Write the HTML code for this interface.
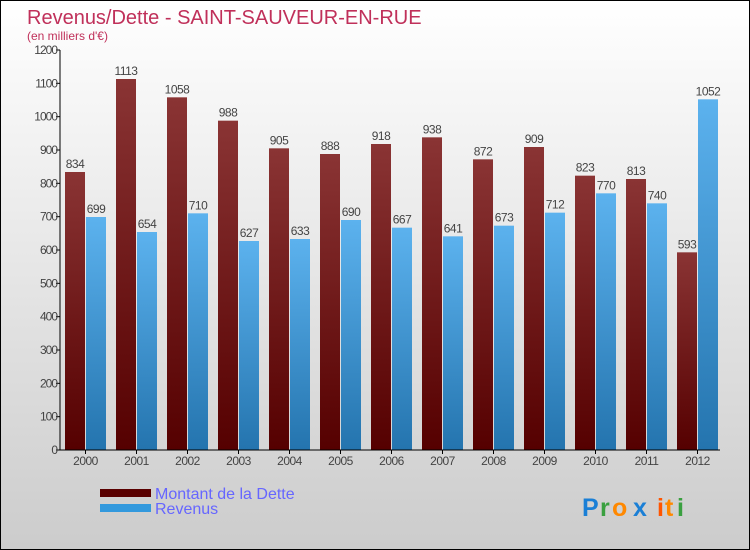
<!DOCTYPE html>
<html><head><meta charset="utf-8"><style>
body{margin:0;width:750px;height:550px;overflow:hidden}
svg{display:block;font-family:"Liberation Sans","DejaVu Sans",sans-serif}
</style></head><body>
<svg id="c" width="750" height="550" viewBox="0 0 750 550">
<defs>
<linearGradient id="bg" x1="0" y1="0" x2="0" y2="1"><stop offset="0" stop-color="#ffffff"/><stop offset="1" stop-color="#cccccc"/></linearGradient>
<linearGradient id="gd" x1="0" y1="0" x2="0" y2="1"><stop offset="0" stop-color="#8a3434"/><stop offset="1" stop-color="#550000"/></linearGradient>
<linearGradient id="gr" x1="0" y1="0" x2="0" y2="1"><stop offset="0" stop-color="#5cb2ee"/><stop offset="1" stop-color="#2474ae"/></linearGradient>
</defs>
<rect x="0.5" y="0.5" width="749" height="549" fill="url(#bg)" stroke="#000"/>
<text x="27" y="24" font-size="20" fill="#c0305a">Revenus/Dette - SAINT-SAUVEUR-EN-RUE</text>
<text x="27" y="40" font-size="12" fill="#c0305a">(en milliers d'€)</text>
<g id="plot"></g>
<rect x="100" y="489" width="51" height="8" fill="#5a0000"/>
<text x="155" y="499" font-size="16" fill="#6666ff">Montant de la Dette</text>
<rect x="100" y="504" width="51" height="8" fill="#3399dd"/>
<text x="155" y="514" font-size="16" fill="#6666ff">Revenus</text>
<g font-size="25" font-weight="bold">
<text x="582" y="516" fill="#1a7fd6">P</text><text x="600" y="516" fill="#3aa040">r</text><text x="612" y="516" fill="#ff8800">o</text><text x="633" y="516" fill="#1a7fd6">x</text><text x="657" y="516" fill="#ff5500">i</text><text x="665" y="516" fill="#ff8800">t</text><text x="677" y="516" fill="#3aa040">i</text>
</g>
</svg>
<script>
const years=["2000","2001","2002","2003","2004","2005","2006","2007","2008","2009","2010","2011","2012"];
const dette=[834,1113,1058,988,905,888,918,938,872,909,823,813,593];
const revenus=[699,654,710,627,633,690,667,641,673,712,770,740,1052];
const yTicks=[0,100,200,300,400,500,600,700,800,900,1000,1100,1200];
const NS="http://www.w3.org/2000/svg";
const g=document.getElementById('plot');
const y0=450,yMax=1200,ph=400,x0=60,step=51,first=85.5;
const yS=v=>y0-v/yMax*ph;
const xC=i=>first+i*step;
function mk(t,a,txt){const e=document.createElementNS(NS,t);for(const k in a)e.setAttribute(k,a[k]);if(txt!==undefined)e.textContent=txt;g.appendChild(e);return e;}
yTicks.forEach(v=>{
 const l=mk('line',{x1:x0-4,x2:x0,y1:yS(v),y2:yS(v),stroke:'#000'});
 
 
 const t=mk('text',{x:x0-3,y:yS(v)+4,'font-size':12,'text-anchor':'end',fill:'#444','letter-spacing':'-1'},v);
 
 
});
years.forEach((yr,i)=>{
 const c=xC(i);
 const b1=mk('rect',{x:c-20.5,y:yS(dette[i]),width:20,height:y0-yS(dette[i]),fill:'url(#gd)'});
 
 
 const b2=mk('rect',{x:c+0.5,y:yS(revenus[i]),width:20,height:y0-yS(revenus[i]),fill:'url(#gr)'});
 
 
 const t1=mk('text',{x:c-10.5,y:yS(dette[i])-4,'font-size':12,'text-anchor':'middle',fill:'#444','letter-spacing':'-0.5'},dette[i]);
 
 
 const t2=mk('text',{x:c+10.5,y:yS(revenus[i])-4,'font-size':12,'text-anchor':'middle',fill:'#444','letter-spacing':'-0.5'},revenus[i]);
 
 
 const tk=mk('line',{x1:c,x2:c,y1:y0,y2:y0+4,stroke:'#000'});
 
 
 const xl=mk('text',{x:c,y:y0+15,'font-size':12,'text-anchor':'middle',fill:'#444','letter-spacing':'-0.5'},yr);
 
 
});
const ya=mk('line',{x1:x0,x2:x0,y1:yS(yMax),y2:y0,stroke:'#000'});


const xa=mk('line',{x1:x0,x2:720,y1:y0,y2:y0,stroke:'#000'});


</script>
</body></html>
